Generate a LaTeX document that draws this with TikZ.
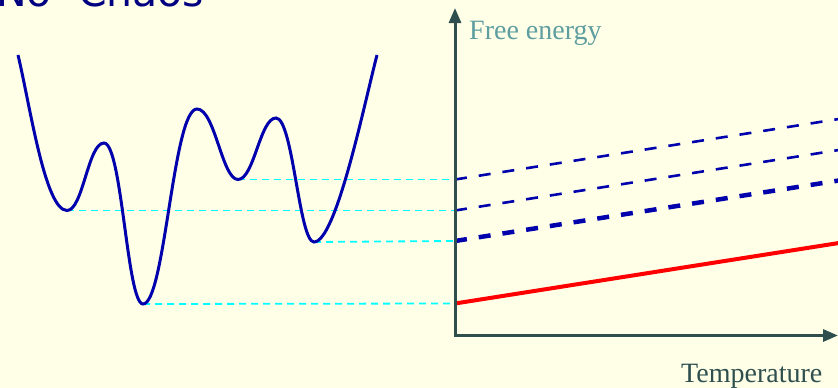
\documentclass[tikz,border=0pt]{standalone}
\usepackage{fontspec}
\setmainfont{Liberation Serif}
\newfontfamily\titlefont{DejaVu Sans}
\usetikzlibrary{arrows.meta}
\definecolor{paper}{RGB}{255,255,232}
\definecolor{titleblue}{RGB}{0,0,128}
\definecolor{curveblue}{RGB}{0,0,172}
\definecolor{axisgray}{RGB}{47,79,79}
\definecolor{labelteal}{RGB}{95,158,160}
\definecolor{levelcyan}{RGB}{0,255,255}
\begin{document}
\begin{tikzpicture}[x=1pt, y=-1pt, >={Triangle[width=12pt,length=15pt]},
  axis/.style={draw=axisgray, line width=3pt},
  level/.style={draw=levelcyan, line width=1.8pt, dash pattern=on 7pt off 5pt},
  phase/.style={draw=curveblue, line width=2.6pt, dash pattern=on 12pt off 12pt}]
\clip (0,0) rectangle (838,388);
\fill[paper] (0,0) rectangle (838,388);
\node[anchor=base west, inner sep=0pt, text=titleblue, font=\titlefont\fontsize{41}{41}\selectfont] (title) at (-4,6) {No\hspace{0.32em} Chaos};
\coordinate (well1) at (67,210.5);
\coordinate (peak1) at (104,143);
\coordinate (well2) at (143,304);
\coordinate (peak2) at (197,109);
\coordinate (well3) at (238,179.5);
\coordinate (peak3) at (276,118);
\coordinate (well4) at (314,242);
\coordinate (origin) at (455,335.5);
\coordinate (ytip) at (455,8);
\coordinate (xtip) at (838,335.5);
\coordinate (lev1) at (455,179.5);
\coordinate (lev2) at (455,210.5);
\coordinate (lev3) at (455,241);
\coordinate (lev4) at (455,303.5);
\coordinate (end1) at (842,118.5);
\coordinate (end2) at (842,149.5);
\coordinate (end3) at (842,180);
\coordinate (end4) at (842,242.5);
\draw[level] (well3) -- (lev1);
\draw[level] (well1) -- (lev2);
\draw[level] (well4) -- (lev3);
\draw[level] (well2) -- (lev4);
\draw[curveblue, line width=3pt] (18,55) .. controls (30,105) and (45,210.5) .. (well1)
  .. controls (83,210.5) and (88,143) .. (peak1)
  .. controls (122,143) and (127,304) .. (well2)
  .. controls (165,304) and (173,109) .. (peak2)
  .. controls (215,109) and (222,179.5) .. (well3)
  .. controls (254,179.5) and (260,118) .. (peak3)
  .. controls (293,118) and (299,242) .. (well4)
  .. controls (336,242) and (364,105) .. (377,55);
\draw[phase] (lev1) -- (end1);
\draw[phase] (lev2) -- (end2);
\draw[phase, line width=4.5pt] (lev3) -- (end3);
\draw[red, line width=4pt] (lev4) -- (end4);
\draw[<->, axis] (ytip) -- (origin) -- (xtip);
\node[anchor=base west, inner sep=0pt, text=labelteal, font=\fontsize{28}{28}\selectfont] (energy) at (469,39) {Free energy};
\node[anchor=base west, inner sep=0pt, text=axisgray, font=\fontsize{28}{28}\selectfont] (temp) at (681,382) {Temperature};
\end{tikzpicture}
\end{document}
